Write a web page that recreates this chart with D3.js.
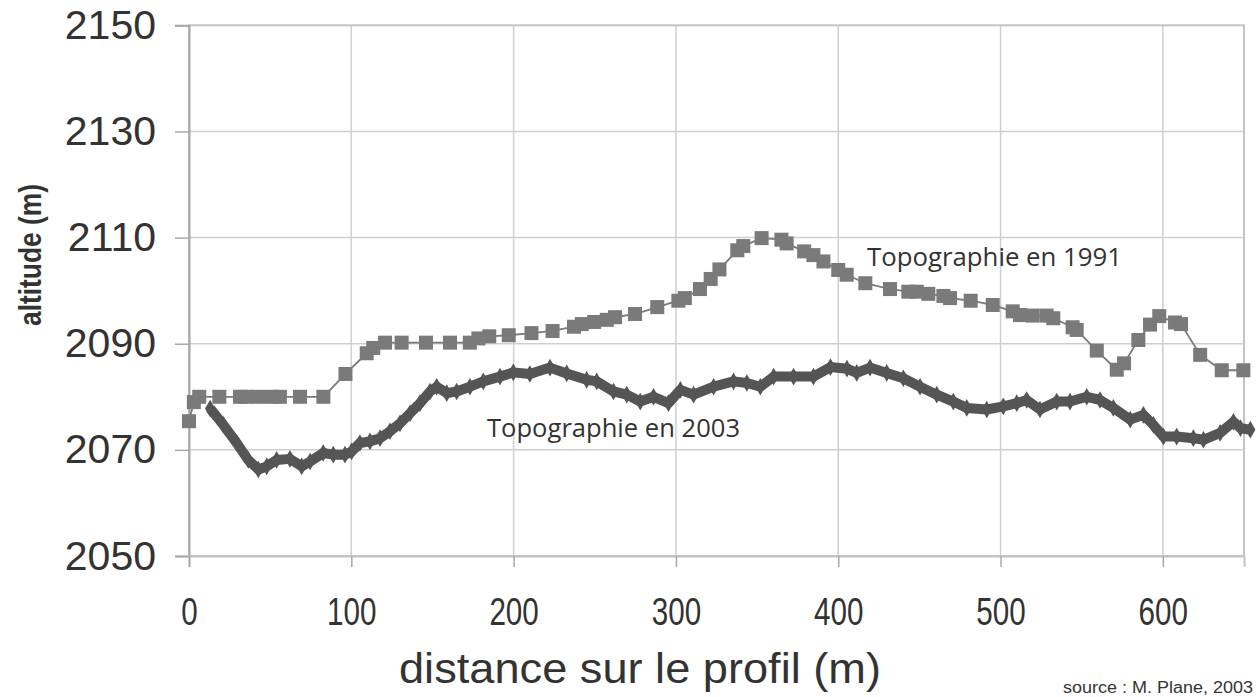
<!DOCTYPE html>
<html>
<head>
<meta charset="utf-8">
<script src="https://cdn.jsdelivr.net/npm/d3@7/dist/d3.min.js"></script>
<style>
  html, body { margin: 0; padding: 0; background: #fff; }
  svg { display: block; }
</style>
</head>
<body>
<svg id="chart" width="1256" height="697"></svg>
<script>
// ---- data ----
const xTicks = [0, 100, 200, 300, 400, 500, 600];
const yTicks = [2050, 2070, 2090, 2110, 2130, 2150];

const dist1991 = [0, 3, 6.3, 18.7, 31.4, 35.1, 42.7, 50.9, 56, 68.4, 82.8, 96.4, 109.5, 113.5, 120.8, 131, 146, 160.8, 173, 178.3, 185, 197, 211, 224, 237.2, 242, 249.6, 257.4, 262.5, 274.8, 288.5, 301.5, 305.5, 314.8, 321.4, 326.8, 337.8, 341.5, 352.8, 365, 368.2, 379, 384.7, 390.9, 400, 405.2, 416.7, 431.9, 443.2, 448.4, 455.5, 464.8, 468.9, 481.6, 495.2, 507.5, 512, 519.8, 528.4, 532.5, 544.4, 546.9, 559.3, 571.6, 576.1, 584.9, 592.1, 597.8, 607.5, 611.2, 623, 636.3, 649.6];
const alt1991 = [2075.4, 2079, 2080, 2080, 2080, 2080, 2080, 2080, 2080, 2080, 2080, 2084.3, 2088.2, 2089.2, 2090.2, 2090.2, 2090.2, 2090.2, 2090.2, 2091, 2091.4, 2091.6, 2092, 2092.4, 2093.2, 2093.7, 2094.1, 2094.5, 2095, 2095.6, 2096.9, 2098.1, 2098.6, 2100.3, 2102.2, 2104, 2107.6, 2108.4, 2109.9, 2109.6, 2108.9, 2107.4, 2106.7, 2105.5, 2103.9, 2103, 2101.4, 2100.3, 2099.8, 2099.8, 2099.4, 2099, 2098.6, 2098.1, 2097.3, 2096.1, 2095.4, 2095.3, 2095.3, 2094.8, 2093.1, 2092.6, 2088.7, 2085.1, 2086.3, 2090.7, 2093.6, 2095.2, 2094, 2093.7, 2087.9, 2085, 2085];

const dist2003 = [13, 21.2, 29.4, 36.5, 42.7, 47.9, 54, 62.2, 69.4, 74.6, 82.7, 88.9, 96.1, 100.2, 105.3, 111.5, 117.7, 123.8, 130, 136.2, 142.3, 148.5, 152.6, 158.8, 164.9, 173.1, 181.3, 191.6, 199.8, 210, 222.4, 232.7, 245, 251.2, 261.5, 269.7, 278, 286.2, 295.4, 302.7, 310.9, 323.2, 335.5, 343.7, 352, 360.2, 372.5, 384.7, 395.2, 405.4, 411.4, 419.6, 429.9, 440.1, 450.4, 460.7, 470.9, 479.2, 491.5, 501.7, 510, 516.1, 524.3, 534.6, 542.8, 553.1, 561.3, 569.5, 579.9, 588, 594.2, 600.3, 608.5, 618.8, 625, 635.3, 643.5, 647.8, 653.9];
const alt2003 = [2077.8, 2074.7, 2071.3, 2068.1, 2066.3, 2066.9, 2068.1, 2068.3, 2066.9, 2067.8, 2069.4, 2069.1, 2069.1, 2069.7, 2071.3, 2071.6, 2072.2, 2073.5, 2075, 2076.9, 2078.8, 2081, 2081.9, 2080.7, 2081, 2081.9, 2082.9, 2083.8, 2084.6, 2084.3, 2085.5, 2084.4, 2083.2, 2082.9, 2081, 2080.4, 2079.1, 2080, 2078.8, 2081.3, 2080.4, 2081.9, 2082.9, 2082.6, 2081.9, 2083.8, 2083.8, 2083.8, 2085.6, 2085.3, 2084.5, 2085.5, 2084.5, 2083.5, 2081.9, 2080.4, 2079.1, 2077.9, 2077.6, 2078.2, 2078.8, 2079.4, 2077.6, 2079.1, 2079.1, 2080, 2079.4, 2077.9, 2075.7, 2076.6, 2074.7, 2072.5, 2072.5, 2072.2, 2071.9, 2073.2, 2075.3, 2074.1, 2073.8];

const label1991 = "Topographie en 1991";
const label2003 = "Topographie en 2003";
const xTitle = "distance sur le profil (m)";
const yTitle = "altitude (m)";
const sourceText = "source : M. Plane, 2003";

// ---- layout ----
const svg = d3.select("#chart");
const L = 189, T = 25.3, R = 1244, B = 556;

const x = d3.scaleLinear().domain([0, 650]).range([L, R]);
const y = d3.scaleLinear().domain([2050, 2150]).range([B, T]);

// grid
const grid = svg.append("g");
grid.selectAll("line.v").data(xTicks.filter(d => d > 0)).join("line")
  .attr("x1", d => x(d)).attr("x2", d => x(d))
  .attr("y1", T).attr("y2", B)
  .attr("stroke", "#cfcfcf").attr("stroke-width", 1.5);
grid.selectAll("line.h").data(yTicks.filter(d => d > 2050 && d < 2150)).join("line")
  .attr("x1", L).attr("x2", R)
  .attr("y1", d => y(d)).attr("y2", d => y(d))
  .attr("stroke", "#cfcfcf").attr("stroke-width", 1.5);

// frame
svg.append("rect")
  .attr("x", L).attr("y", T).attr("width", R - L).attr("height", B - T)
  .attr("fill", "none").attr("stroke", "#c4c4c4").attr("stroke-width", 2);

// y axis
const yAxis = svg.append("g")
  .attr("transform", `translate(${L},0)`)
  .call(d3.axisLeft(y).tickValues(yTicks).tickSize(14).tickPadding(19).tickFormat(d3.format("d")));
yAxis.select(".domain").attr("stroke", "#a8a8a8").attr("stroke-width", 2);
yAxis.selectAll(".tick line").attr("stroke", "#a8a8a8").attr("stroke-width", 1.5);
yAxis.selectAll(".tick text")
  .attr("fill", "#333")
  .style("font-family", "'Liberation Sans', Arial, sans-serif")
  .style("font-size", "41px");

// x axis
const xAxis = svg.append("g")
  .attr("transform", `translate(0,${B})`)
  .call(d3.axisBottom(x).tickValues(xTicks).tickSize(11).tickPadding(30).tickFormat(d3.format("d")));
xAxis.select(".domain").attr("stroke", "#c4c4c4").attr("stroke-width", 2);
xAxis.selectAll(".tick line").attr("stroke", "#a8a8a8").attr("stroke-width", 1.5);
xAxis.selectAll(".tick text")
  .attr("fill", "#333")
  .style("font-family", "'Liberation Sans', Arial, sans-serif")
  .style("font-size", "39px")
  .attr("transform", "scale(0.76,1)");

// axis titles
svg.append("text")
  .attr("x", 640).attr("y", 683)
  .attr("text-anchor", "middle")
  .attr("fill", "#333")
  .style("font-family", "'Liberation Sans', Arial, sans-serif")
  .style("font-size", "42px")
  .attr("textLength", 482).attr("lengthAdjust", "spacingAndGlyphs")
  .text(xTitle);

svg.append("text")
  .attr("transform", "translate(41,255) rotate(-90)")
  .attr("text-anchor", "middle")
  .attr("fill", "#333")
  .style("font-family", "'Liberation Sans', Arial, sans-serif")
  .style("font-size", "31px")
  .style("font-weight", "bold")
  .attr("textLength", 142).attr("lengthAdjust", "spacingAndGlyphs")
  .text(yTitle);

svg.append("text")
  .attr("x", 1253).attr("y", 693)
  .attr("text-anchor", "end")
  .attr("fill", "#333")
  .style("font-family", "'Liberation Sans', Arial, sans-serif")
  .style("font-size", "16px")
  .attr("textLength", 190).attr("lengthAdjust", "spacingAndGlyphs")
  .text(sourceText);

// series
const d1991 = dist1991.map((d, i) => [d, alt1991[i]]);
const d2003 = dist2003.map((d, i) => [d, alt2003[i]]);
const line = d3.line().x(d => x(d[0])).y(d => y(d[1]));

svg.append("path").datum(d1991)
  .attr("d", line).attr("fill", "none")
  .attr("stroke", "#7a7a7a").attr("stroke-width", 1.8);
svg.append("g").selectAll("rect").data(d1991).join("rect")
  .attr("x", d => x(d[0]) - 7).attr("y", d => y(d[1]) - 7)
  .attr("width", 14).attr("height", 14)
  .attr("fill", "#7a7a7a");

svg.append("path").datum(d2003)
  .attr("d", line).attr("fill", "none")
  .attr("stroke", "#555").attr("stroke-width", 10)
  .attr("stroke-linejoin", "round");
svg.append("g").selectAll("path").data(d2003).join("path")
  .attr("transform", d => `translate(${x(d[0])},${y(d[1])})`)
  .attr("d", d3.symbol(d3.symbolDiamond, 90))
  .attr("fill", "#555");

// series labels
svg.append("text")
  .attr("x", 867).attr("y", 266)
  .attr("fill", "#333")
  .style("font-family", "'Open Sans', 'Noto Sans', sans-serif")
  .style("font-size", "26px")
  .attr("textLength", 255).attr("lengthAdjust", "spacingAndGlyphs")
  .text(label1991);
svg.append("text")
  .attr("x", 487).attr("y", 437)
  .attr("fill", "#333")
  .style("font-family", "'Open Sans', 'Noto Sans', sans-serif")
  .style("font-size", "26px")
  .attr("textLength", 253).attr("lengthAdjust", "spacingAndGlyphs")
  .text(label2003);
</script>
</body>
</html>
